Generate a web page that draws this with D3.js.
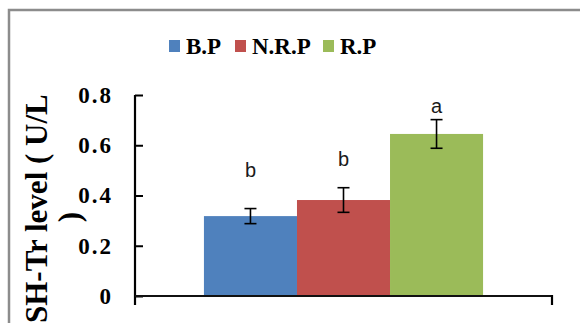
<!DOCTYPE html>
<html>
<head>
<meta charset="utf-8">
<script src="https://cdn.jsdelivr.net/npm/d3@7"></script>
<style>
  html, body { margin: 0; padding: 0; background: #fff; }
  svg { display: block; }
</style>
</head>
<body>
<svg id="chart" width="580" height="323"></svg>
<script>
// Groups, their means, errors and significance letters
const groups = ["B.P", "N.R.P", "R.P"];
const means = [0.318, 0.382, 0.645];
const errors = [0.030, 0.049, 0.057];
const letters = ["b", "b", "a"];
const colors = ["#4F81BD", "#C0504D", "#9BBB59"];
const yTicks = [0, 0.2, 0.4, 0.6, 0.8];
const yTitle = "SH-Tr level ( U/L";
const yTitle2 = ")";

const svg = d3.select("#chart");
const serif = "'Liberation Serif', 'Times New Roman', serif";

// Chart frame
svg.append("rect")
  .attr("x", 9).attr("y", 10)
  .attr("width", 600).attr("height", 400)
  .attr("fill", "none").attr("stroke", "#8c8c8c").attr("stroke-width", 2.5);

const plot = { left: 135, right: 552, top: 95, bottom: 296 };

const y = d3.scaleLinear().domain([0, 0.8]).range([plot.bottom, plot.top]);
// single category spanning the plot, with the three groups side by side
const x0 = d3.scaleBand().domain(["all"]).range([plot.left, plot.right]).paddingInner(0).paddingOuter(0.247);
const x1 = d3.scaleBand().domain(groups).range([x0("all"), x0("all") + x0.bandwidth()]).padding(0);

// Bars
svg.append("g").selectAll("rect").data(groups).join("rect")
  .attr("x", d => x1(d))
  .attr("width", x1.bandwidth())
  .attr("y", (d, i) => y(means[i]))
  .attr("height", (d, i) => y(0) - y(means[i]))
  .attr("fill", (d, i) => colors[i]);

// Error bars
const eb = svg.append("g").attr("stroke", "#000").attr("stroke-width", 1.6);
groups.forEach((g, i) => {
  const cx = x1(g) + x1.bandwidth() / 2;
  const hi = y(means[i] + errors[i]), lo = y(means[i] - errors[i]);
  eb.append("line").attr("x1", cx).attr("x2", cx).attr("y1", hi).attr("y2", lo);
  eb.append("line").attr("x1", cx - 6).attr("x2", cx + 6).attr("y1", hi).attr("y2", hi);
  eb.append("line").attr("x1", cx - 6).attr("x2", cx + 6).attr("y1", lo).attr("y2", lo);
});

// Significance letters
const letterOffsets = [0.155, 0.137, 0.085];
svg.append("g").selectAll("text").data(groups).join("text")
  .attr("x", d => x1(d) + x1.bandwidth() / 2)
  .attr("y", (d, i) => y(means[i] + letterOffsets[i]))
  .attr("text-anchor", "middle")
  .attr("font-family", "'Liberation Sans', Arial, sans-serif")
  .attr("font-size", 20)
  .attr("fill", "#1a1a1a")
  .text((d, i) => letters[i]);

// Y axis with inside ticks
const yAxis = d3.axisLeft(y).tickValues(yTicks).tickSizeInner(-8).tickSizeOuter(0)
  .tickFormat(d => d === 0 ? "0" : d3.format(".1f")(d));
const ya = svg.append("g").attr("transform", `translate(${plot.left},0)`).call(yAxis);
ya.select(".domain").remove();
ya.selectAll(".tick line").attr("stroke", "#000").attr("stroke-width", 2);
ya.selectAll(".tick text")
  .attr("x", -22)
  .attr("font-family", serif).attr("font-weight", "bold").attr("font-size", 23)
  .attr("letter-spacing", 2)
  .attr("fill", "#000");
svg.append("line")
  .attr("x1", plot.left).attr("x2", plot.left)
  .attr("y1", plot.top).attr("y2", plot.bottom + 9)
  .attr("stroke", "#000").attr("stroke-width", 2.2);

// X axis with category boundary ticks
svg.append("line")
  .attr("x1", plot.left).attr("x2", plot.right)
  .attr("y1", plot.bottom).attr("y2", plot.bottom)
  .attr("stroke", "#111").attr("stroke-width", 2);
svg.append("line")
  .attr("x1", plot.right).attr("x2", plot.right)
  .attr("y1", plot.bottom - 1).attr("y2", plot.bottom + 9)
  .attr("stroke", "#000").attr("stroke-width", 2.2);

// Y axis title
svg.append("text")
  .attr("transform", "translate(47,323) rotate(-90)")
  .attr("font-family", serif).attr("font-weight", "bold").attr("font-size", 31)
  .attr("fill", "#000")
  .text(yTitle);
svg.append("text")
  .attr("transform", "translate(80,217) rotate(-90)")
  .attr("text-anchor", "middle")
  .attr("font-family", serif).attr("font-weight", "bold").attr("font-size", 31)
  .attr("fill", "#000")
  .text(yTitle2);

// Legend
const legendX = [169, 235, 323];
const lg = svg.append("g");
groups.forEach((g, i) => {
  lg.append("rect").attr("x", legendX[i]).attr("y", 40).attr("width", 11).attr("height", 12).attr("fill", colors[i]);
  lg.append("text").attr("x", legendX[i] + 17).attr("y", 54)
    .attr("font-family", serif).attr("font-weight", "bold").attr("font-size", 23)
    .attr("fill", "#000").text(g);
});
</script>
</body>
</html>
